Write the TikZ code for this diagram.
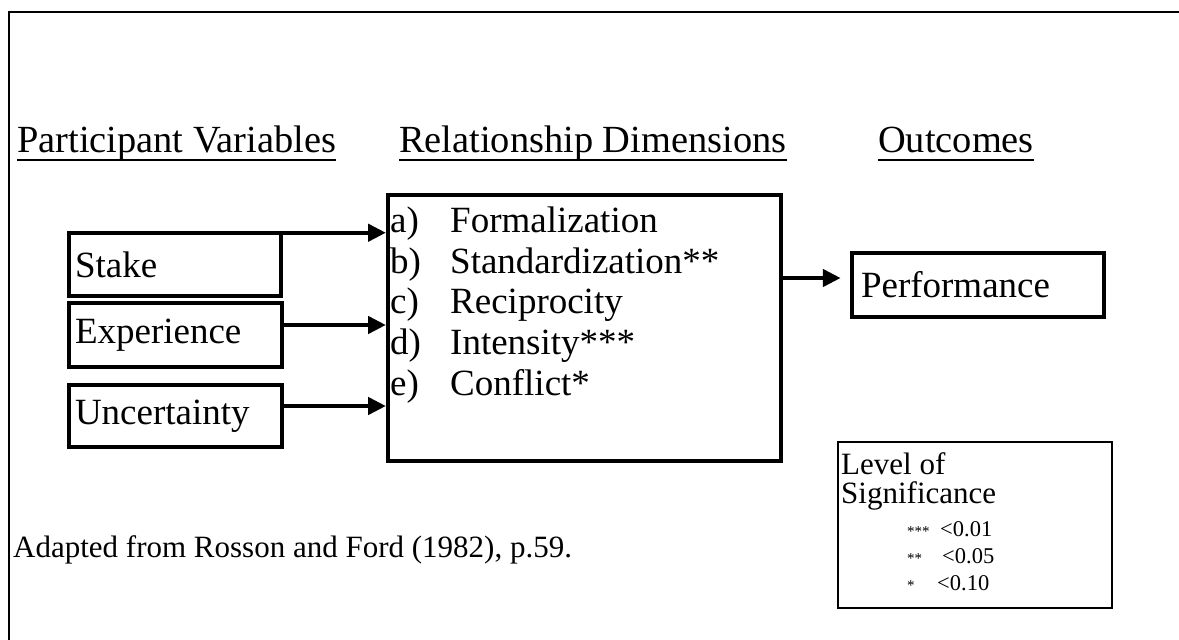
\documentclass[tikz,border=0pt]{standalone}
\usepackage{fontspec}
\setmainfont{Liberation Serif}
\usetikzlibrary{arrows.meta}
\newcommand{\sigstars}[1]{{\fontsize{15}{18}\selectfont #1}}
\begin{document}
\begin{tikzpicture}[x=1pt,y=-1pt,
  head/.style={anchor=base west,inner sep=0pt,font=\fontsize{38.4}{44}\selectfont},
  uline/.style={line width=2.5pt},
  varbox/.style={draw,line width=4.5pt,align=left,inner xsep=6pt,inner ysep=0pt,
     font=\fontsize{37}{42}\selectfont},
  item/.style={anchor=base west,inner sep=0pt,font=\fontsize{37}{42}\selectfont},
  leg/.style={anchor=base west,inner sep=0pt,font=\fontsize{31}{36}\selectfont},
  legsm/.style={anchor=base west,inner sep=0pt,font=\fontsize{22.5}{26}\selectfont},
  arr/.style={line width=4.5pt,-{Triangle[length=18pt,width=17pt]}}]
\useasboundingbox (0,0) rectangle (1179,640);
% outer frame (top and left edges)
\coordinate (fl) at (9,640);
\coordinate (ftl) at (9,12);
\coordinate (fr) at (1179,12);
\draw[line width=2.5pt] (fl) -- (ftl) -- (fr);
% headings
\node[head] (h1) at (17,152) {Participant Variables};
\node[head] (h2) at (399,152) {Relationship Dimensions};
\node[head] (h3) at (878,152) {Outcomes};
\foreach \h in {h1,h2,h3}
  \draw[uline] ([yshift=-8pt]\h.base west) -- ([yshift=-8pt]\h.base east);
% participant variable boxes
\node[varbox,minimum width=212pt,minimum height=63pt,text width=200pt] (stake) at (175,264.5) {Stake};
\node[varbox,minimum width=213pt,minimum height=64pt,text width=201pt] (exp) at (175.5,335) {Experience};
\node[varbox,minimum width=213pt,minimum height=62pt,text width=201pt] (unc) at (175.5,416) {Uncertainty};
% relationship dimensions box
\node[draw,line width=4pt,minimum width=393pt,minimum height=266pt,inner sep=0pt] (main) at (584.5,328) {};
\node[item] (la) at (390,232) {\makebox[60pt][l]{a)}Formalization};
\node[item] (lb) at (390,273) {\makebox[60pt][l]{b)}Standardization**};
\node[item] (lc) at (390,313) {\makebox[60pt][l]{c)}Reciprocity};
\node[item] (ld) at (390,354) {\makebox[60pt][l]{d)}Intensity***};
\node[item] (le) at (390,395) {\makebox[60pt][l]{e)}Conflict*};
% outcome box
\node[draw,line width=4.5pt,minimum width=252pt,minimum height=64pt,text width=234pt,
  align=left,inner xsep=9pt,inner ysep=0pt,font=\fontsize{37}{42}\selectfont] (perf) at (978,285) {Performance};
% arrows
\draw[arr] ([yshift=-2pt]stake.north east) -- ([yshift=-2pt]stake.north east -| main.west);
\draw[arr] ([yshift=10pt]exp.east) -- ([yshift=10pt]exp.east -| main.west);
\draw[arr] ([yshift=10pt]unc.east) -- ([yshift=10pt]unc.east -| main.west);
\draw[arr,shorten >=9pt] ([yshift=50pt]main.east) -- ([yshift=50pt]main.east -| perf.west);
% source note
\node[leg] (src) at (13,557) {Adapted from Rosson and Ford (1982), p.59.};
% legend
\node[draw,line width=2.5pt,minimum width=274pt,minimum height=166pt,inner sep=0pt] (legend) at (975,525) {};
\node[leg,text depth=0pt] (l1) at (841,474) {Level of};
\node[leg,text height=20pt] (l2) at (841,503) {Significance};
\node[legsm] (s1) at (907,536) {\makebox[33pt][l]{\sigstars{***}}<0.01};
\node[legsm] (s2) at (907,563) {\makebox[35pt][l]{\sigstars{**}}<0.05};
\node[legsm] (s3) at (907,590) {\makebox[30pt][l]{\sigstars{*}}<0.10};
\end{tikzpicture}
\end{document}
